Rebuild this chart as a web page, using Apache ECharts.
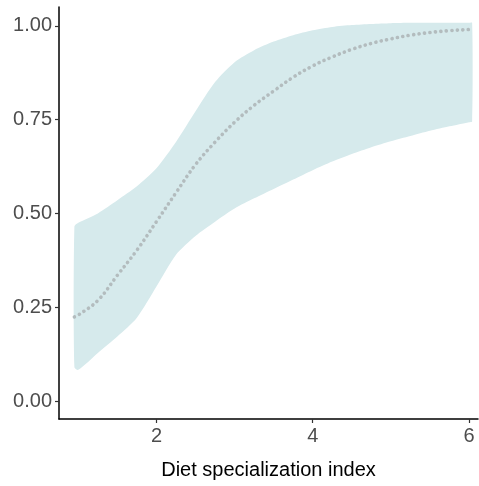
<!DOCTYPE html>
<html>
<head>
<meta charset="utf-8">
<script src="https://cdn.jsdelivr.net/npm/echarts@6/dist/echarts.min.js"></script>
<style>
html,body{margin:0;padding:0;background:#fff;}
#main{width:479px;height:486px;}
</style>
</head>
<body>
<div id="main"></div>
<script>
// diet specialization index (x)
var xVals = [0.95, 1.0, 1.25, 1.5, 1.75, 2.0, 2.25, 2.5, 2.75, 3.0, 3.25, 3.5, 3.75, 4.0, 4.25, 4.5, 4.75, 5.0, 5.25, 5.5, 5.75, 6.0, 6.04];
// fitted probability
var fitVals = [0.224, 0.229, 0.268, 0.335, 0.402, 0.478, 0.555, 0.63, 0.69, 0.743, 0.788, 0.826, 0.863, 0.893, 0.917, 0.937, 0.953, 0.965, 0.975, 0.982, 0.987, 0.99, 0.991];
// confidence band
var upperVals = [0.465, 0.475, 0.50, 0.535, 0.572, 0.62, 0.69, 0.772, 0.85, 0.903, 0.935, 0.958, 0.975, 0.988, 0.997, 1.002, 1.005, 1.007, 1.008, 1.008, 1.008, 1.008, 1.008];
var lowerVals = [0.09, 0.083, 0.128, 0.172, 0.222, 0.305, 0.39, 0.44, 0.478, 0.513, 0.54, 0.565, 0.59, 0.615, 0.638, 0.658, 0.676, 0.692, 0.706, 0.72, 0.732, 0.743, 0.745];
var xTicks = [2, 4, 6];
var yTicks = [0, 0.25, 0.5, 0.75, 1];

var myChart = echarts.init(document.getElementById('main'));

var fitData = xVals.map(function(x, i){ return [x, fitVals[i]]; });

var option = {
	animation: false,
	grid: {
		left: 59,
		right: 1,
		top: 7,
		bottom: 67
	},
	xAxis: {
		type: 'value',
		min: 0.753,
		max: 6.115,
		name: 'Diet specialization index',
		nameLocation: 'middle',
		nameGap: 41,
		nameTextStyle: {
			color: '#000',
			fontSize: 20,
			fontFamily: 'Liberation Sans'
		},
		splitLine: { show: false },
		axisLine: { onZero: false, lineStyle: { color: '#000', width: 1.5 } },
		axisTick: { length: 4, customValues: xTicks, lineStyle: { color: '#333', width: 1.2 } },
		axisLabel: {
			color: '#4d4d4d',
			fontSize: 20,
			fontFamily: 'Liberation Sans',
			margin: 7,
			customValues: xTicks
		}
	},
	yAxis: {
		type: 'value',
		min: -0.048,
		max: 1.05,
		splitLine: { show: false },
		axisLine: { show: true, onZero: false, lineStyle: { color: '#000', width: 1.5 } },
		axisTick: { show: true, length: 4, customValues: yTicks, lineStyle: { color: '#333', width: 1.2 } },
		axisLabel: {
			color: '#4d4d4d',
			fontSize: 20,
			fontFamily: 'Liberation Sans',
			margin: 7,
			customValues: yTicks,
			formatter: function(v){ return v.toFixed(2); }
		}
	},
	series: [
		{
			type: 'custom',
			renderItem: function(params, api){
				var pts = [];
				for (var i = 0; i < xVals.length; i++) pts.push(api.coord([xVals[i], upperVals[i]]));
				for (var j = xVals.length - 1; j >= 0; j--) pts.push(api.coord([xVals[j], lowerVals[j]]));
				return {
					type: 'polygon',
					shape: { points: pts, smooth: 0.25 },
					style: { fill: '#d6eaec' }
				};
			},
			data: [[xVals[0], lowerVals[0]]],
			z: 1
		},
		{
			type: 'line',
			data: fitData,
			smooth: 0.4,
			symbol: 'none',
			lineStyle: { color: '#b3bcbe', width: 3.6, type: [0.1, 5.4], cap: 'round' },
			z: 2
		}
	]
};

myChart.setOption(option);
window.onresize = myChart.resize;
</script>
</body>
</html>
